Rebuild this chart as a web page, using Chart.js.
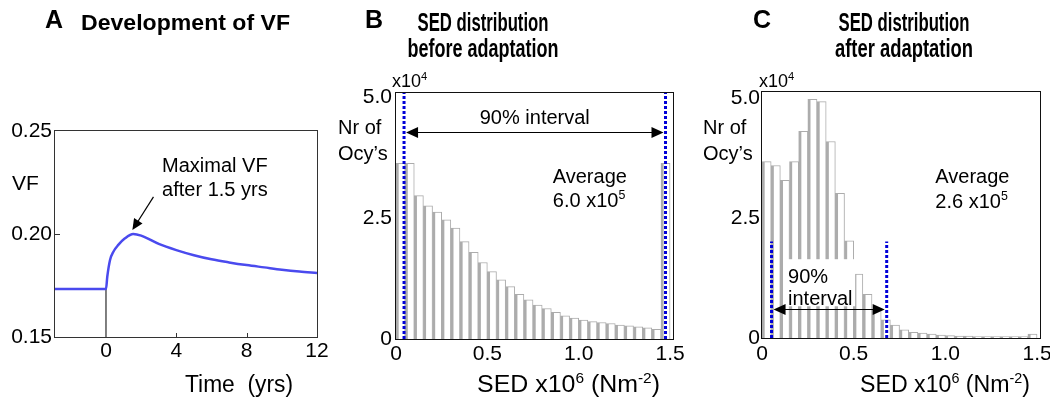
<!DOCTYPE html>
<html><head><meta charset="utf-8">
<script src="https://cdn.jsdelivr.net/npm/chart.js@4.4.1/dist/chart.umd.min.js"></script>
<style>
html,body{margin:0;padding:0;background:#fff;width:1050px;height:404px;overflow:hidden}
canvas{position:absolute;top:0}
#A{left:0}
#B{left:335px}
#C{left:695px}
</style></head><body>
<canvas id="A" width="335" height="404"></canvas>
<canvas id="B" width="360" height="404"></canvas>
<canvas id="C" width="355" height="404"></canvas>
<script>
const FONT = '"Liberation Sans", Arial, Helvetica, sans-serif';

// ---------- Panel A: development of VF ----------
const timeYrs  = [-2.9, 0, 0.075, 0.23, 0.42, 0.70, 1.08, 1.55, 2.0, 3.0, 4.0, 5.0, 6.0, 7.0, 8.0, 9.0, 10.0, 11.0, 12.0];
const vfValues = [0.1733, 0.1733, 0.1794, 0.1874, 0.1914, 0.1947, 0.1979, 0.2000, 0.1992, 0.1952, 0.1922, 0.1897, 0.1877, 0.1862, 0.1849, 0.1838, 0.1827, 0.1818, 0.1811];
const vfXTicks = [0, 4, 8, 12];
const vfXTickLabels = ['0', '4', '8', '12'];
const vfYTicks = [0.15, 0.20, 0.25];
const vfYTickLabels = ['0.15', '0.20', '0.25'];
const vfPeakNote = { tail: [2.7, 0.218], tip: [1.5, 0.2019], textX: 3.19, line1Y: 0.2301, line2Y: 0.2184 };

// ---------- Panels B and C: SED histograms (counts in x10^4) ----------
const sedBinCenters = [0.025, 0.075, 0.125, 0.175, 0.225, 0.275, 0.325, 0.375, 0.425, 0.475,
                       0.525, 0.575, 0.625, 0.675, 0.725, 0.775, 0.825, 0.875, 0.925, 0.975,
                       1.025, 1.075, 1.125, 1.175, 1.225, 1.275, 1.325, 1.375, 1.425, 1.475];
const countsBefore = [3.63, 3.63, 2.96, 2.75, 2.62, 2.46, 2.29, 2.01, 1.79, 1.58,
                      1.39, 1.22, 1.08, 0.92, 0.81, 0.70, 0.63, 0.55, 0.48, 0.43,
                      0.39, 0.36, 0.34, 0.32, 0.29, 0.27, 0.25, 0.23, 0.20, 3.63];
const countsAfter  = [3.67, 3.59, 3.28, 3.67, 4.30, 4.97, 4.92, 4.09, 3.01, 2.02,
                      1.33, 0.91, 0.60, 0.38, 0.27, 0.17, 0.12, 0.10, 0.08, 0.06,
                      0.05, 0.04, 0.04, 0.03, 0.03, 0.03, 0.03, 0.03, 0.03, 0.08];
const interval90Before = [0.044, 1.475];
const interval90After  = [0.052, 0.68];
const intervalLineTopAfter = 2.01;
const sedTicks = [0, 0.5, 1.0, 1.5];
const sedTickLabels = ['0', '0.5', '1.0', '1.5'];
const countTicks = [0, 2.5, 5.0];
const countTickLabels = ['0', '2.5', '5.0'];

// ---------- text helpers ----------
function txt(ctx, str, x, y, font, align, targetW) {
  ctx.save();
  ctx.font = font;
  ctx.fillStyle = '#000';
  ctx.textBaseline = 'alphabetic';
  ctx.textAlign = align || 'left';
  const w = ctx.measureText(str).width;
  const s = targetW ? targetW / w : 1;
  ctx.translate(x, y);
  ctx.scale(s, 1);
  ctx.fillText(str, 0, 0);
  ctx.restore();
}
function rich(ctx, parts, x, y, size, align, targetW) {
  ctx.save();
  ctx.fillStyle = '#000';
  ctx.textBaseline = 'alphabetic';
  ctx.textAlign = 'left';
  let total = 0;
  const segs = parts.map(([t, sup]) => {
    const fs = sup ? size * 0.62 : size;
    ctx.font = fs + 'px ' + FONT;
    const w = ctx.measureText(t).width;
    total += w;
    return { t, sup, fs, w };
  });
  const s = targetW ? targetW / total : 1;
  let sx = x;
  if (align === 'center') sx = x - total * s / 2;
  if (align === 'right') sx = x - total * s;
  ctx.translate(sx, y);
  ctx.scale(s, 1);
  let cx = 0;
  for (const g of segs) {
    ctx.font = g.fs + 'px ' + FONT;
    ctx.fillText(g.t, cx, g.sup ? -size * 0.40 : 0);
    cx += g.w;
  }
  ctx.restore();
}
function arrowHead(ctx, x1, y1, x2, y2, len, half) {
  const a = Math.atan2(y2 - y1, x2 - x1);
  ctx.beginPath();
  ctx.moveTo(x2, y2);
  ctx.lineTo(x2 - len * Math.cos(a) + half * Math.sin(a), y2 - len * Math.sin(a) - half * Math.cos(a));
  ctx.lineTo(x2 - len * Math.cos(a) - half * Math.sin(a), y2 - len * Math.sin(a) + half * Math.cos(a));
  ctx.closePath();
  ctx.fill();
}
function frame(chart, color) {
  const { ctx, chartArea: a } = chart;
  ctx.save();
  ctx.strokeStyle = color;
  ctx.lineWidth = 1;
  ctx.strokeRect(Math.round(a.left) - 0.5, Math.round(a.top) - 0.5, Math.round(a.right - a.left) + 1, Math.round(a.bottom - a.top) + 1);
  ctx.restore();
}

function axisX(min, max, ticks, labels, height, pad) {
  return {
    type: 'linear', min, max, offset: false,
    grid: { display: false, drawTicks: false, offset: false }, border: { display: false },
    afterBuildTicks: s => { s.ticks = ticks.map(v => ({ value: v })); },
    afterFit: s => { s.height = height; s.paddingLeft = 0; s.paddingRight = 0; },
    ticks: { callback: (v, i) => labels[i], font: { family: FONT, size: 21 }, color: '#000', padding: pad, maxRotation: 0, autoSkip: false }
  };
}
function axisY(min, max, ticks, labels, width, pad) {
  return {
    type: 'linear', min, max,
    grid: { display: false, drawTicks: false }, border: { display: false },
    afterBuildTicks: s => { s.ticks = ticks.map(v => ({ value: v })); },
    afterFit: s => { s.width = width; s.paddingTop = 0; s.paddingBottom = 0; },
    ticks: { callback: (v, i) => labels[i], font: { family: FONT, size: 21 }, color: '#000', padding: pad, autoSkip: false }
  };
}

// ---------- Panel A ----------
const panelAPlugin = {
  id: 'panelA',
  afterDraw(chart) {
    const { ctx, scales: { x, y }, chartArea: a } = chart;
    frame(chart, '#333');
    ctx.save();
    ctx.strokeStyle = '#333'; ctx.lineWidth = 1;
    ctx.beginPath();
    [4, 8].forEach(v => { const px = Math.round(x.getPixelForValue(v)) + 0.5; ctx.moveTo(px, a.bottom); ctx.lineTo(px, a.bottom - 4); });
    const py = Math.round(y.getPixelForValue(0.20)) + 0.5;
    ctx.moveTo(a.left, py); ctx.lineTo(a.left + 5, py);
    ctx.stroke();
    // annotation arrow
    const tx = x.getPixelForValue(vfPeakNote.tail[0]), ty = y.getPixelForValue(vfPeakNote.tail[1]);
    const hx = x.getPixelForValue(vfPeakNote.tip[0]), hy = y.getPixelForValue(vfPeakNote.tip[1]);
    ctx.strokeStyle = '#000'; ctx.fillStyle = '#000'; ctx.lineWidth = 1.2;
    ctx.beginPath(); ctx.moveTo(tx, ty); ctx.lineTo(hx + (tx - hx) * 0.2, hy + (ty - hy) * 0.2); ctx.stroke();
    arrowHead(ctx, tx, ty, hx, hy, 11, 5);
    ctx.restore();
    const f20 = '20px ' + FONT;
    txt(ctx, 'Maximal VF', x.getPixelForValue(vfPeakNote.textX), y.getPixelForValue(vfPeakNote.line1Y), f20);
    txt(ctx, 'after 1.5 yrs', x.getPixelForValue(vfPeakNote.textX), y.getPixelForValue(vfPeakNote.line2Y), f20);
    // titles and axis labels
    txt(ctx, 'A', 45, 28, 'bold 25px ' + FONT);
    txt(ctx, 'Development of VF', 81, 30, 'bold 22px ' + FONT, 'left', 209);
    txt(ctx, 'VF', 12, 190, '21px ' + FONT);
    txt(ctx, 'Time  (yrs)', 185, 392, '23px ' + FONT, 'left', 108);
  }
};

new Chart(document.getElementById('A'), {
  type: 'line',
  data: {
    datasets: [
      { data: timeYrs.map((t, i) => ({ x: t, y: vfValues[i] })), borderColor: '#4a4aee', borderWidth: 2.5, pointRadius: 0, cubicInterpolationMode: 'monotone', fill: false },
      { data: [{ x: timeYrs[1], y: vfYTicks[0] }, { x: timeYrs[1], y: vfValues[1] }], borderColor: '#000', borderWidth: 1, pointRadius: 0 }
    ]
  },
  options: {
    responsive: false, animation: false, events: [],
    layout: { padding: { left: 0, top: 131, right: 18, bottom: 0 } },
    plugins: { legend: { display: false }, tooltip: { enabled: false } },
    scales: {
      x: axisX(-2.9, 12, vfXTicks, vfXTickLabels, 67, 2),
      y: axisY(0.15, 0.25, vfYTicks, vfYTickLabels, 55, 3)
    }
  },
  plugins: [panelAPlugin]
});

// ---------- Panels B / C ----------
function histPlugin(cfg) {
  return {
    id: 'hist' + cfg.key,
    afterDatasetsDraw(chart) {
      const { ctx, scales: { x, y } } = chart;
      if (cfg.box) {
        ctx.save();
        ctx.fillStyle = '#fff';
        const l = x.getPixelForValue(cfg.box.x0), r = x.getPixelForValue(cfg.box.x1);
        const t = y.getPixelForValue(cfg.box.y1), b = y.getPixelForValue(cfg.box.y0);
        ctx.fillRect(l, t, r - l, b - t);
        ctx.restore();
      }
      // double-headed arrow
      ctx.save();
      ctx.strokeStyle = '#000'; ctx.fillStyle = '#000'; ctx.lineWidth = 1.2;
      const ay = Math.round(y.getPixelForValue(cfg.arrow.y)) + 0.5;
      const ax0 = x.getPixelForValue(cfg.arrow.x0) + 2, ax1 = x.getPixelForValue(cfg.arrow.x1) - 2;
      ctx.beginPath(); ctx.moveTo(ax0 + 8, ay); ctx.lineTo(ax1 - 8, ay); ctx.stroke();
      arrowHead(ctx, ax1, ay, ax0, ay, 12, 5.5);
      arrowHead(ctx, ax0, ay, ax1, ay, 12, 5.5);
      ctx.restore();
    },
    afterDraw(chart) {
      const { ctx, scales: { x, y } } = chart;
      frame(chart, '#111');
      const ox = cfg.ox;
      const f20 = '20px ' + FONT;
      txt(ctx, cfg.letter, cfg.letterX - ox, 28, 'bold 25px ' + FONT);
      txt(ctx, 'SED distribution', cfg.titleX - ox, 31, 'bold 25px ' + FONT, 'center', 131);
      txt(ctx, cfg.title2, cfg.titleX - ox, 57, 'bold 25px ' + FONT, 'center', cfg.title2W);
      rich(ctx, [['x10', false], ['4', true]], cfg.expX - ox, 87, 18);
      txt(ctx, 'Nr of', cfg.nrX - ox, 134, f20);
      txt(ctx, 'Ocy\u2019s', cfg.nrX - ox, 160, f20);
      txt(ctx, 'Average', x.getPixelForValue(cfg.avg.x), y.getPixelForValue(cfg.avg.y1), f20);
      rich(ctx, [[cfg.avg.text, false], ['5', true]], x.getPixelForValue(cfg.avg.x), y.getPixelForValue(cfg.avg.y2), 20);
      cfg.intervalText.forEach(it => txt(ctx, it.t, x.getPixelForValue(it.x), y.getPixelForValue(it.y), f20, it.align));
      rich(ctx, [['SED x10', false], ['6', true], [' (Nm', false], ['-2', true], [')', false]], cfg.labX - ox, 392, 23, 'left', cfg.labW);
    }
  };
}

function histChart(id, counts, interval, lineTop, yMax, xMax, yAxisW, padR, xPad, yPad, cfg) {
  const dotted = v => ({
    type: 'line', data: [{ x: v, y: 0 }, { x: v, y: lineTop }],
    borderColor: '#0000d8', borderWidth: 3, borderDash: [3, 2], pointRadius: 0, order: 0
  });
  return new Chart(document.getElementById(id), {
    data: {
      datasets: [
        { type: 'bar', data: sedBinCenters.map((c, i) => ({ x: c, y: counts[i] })),
          backgroundColor: '#ffffff', borderColor: '#acacac',
          borderWidth: { left: 3, top: 1, right: 1, bottom: 0 }, borderSkipped: false,
          categoryPercentage: 1, barPercentage: 1, order: 2 },
        dotted(interval[0]), dotted(interval[1])
      ]
    },
    options: {
      responsive: false, animation: false, events: [],
      layout: { padding: { left: 0, top: cfg.top, right: padR, bottom: 0 } },
      plugins: { legend: { display: false }, tooltip: { enabled: false } },
      scales: {
        x: axisX(0, xMax, sedTicks, sedTickLabels, 404 - cfg.bottom, xPad),
        y: axisY(0, yMax, countTicks, countTickLabels, yAxisW, yPad)
      }
    },
    plugins: [histPlugin(cfg)]
  });
}

histChart('B', countsBefore, interval90Before, 5.08, 5.08, 1.516, 61, 22, 3, 4, {
  key: 'B', ox: 335, top: 93, bottom: 339, letter: 'B', letterX: 365, titleX: 483, title2: 'before adaptation', title2W: 151,
  expX: 392, nrX: 338, avg: { x: 0.858, y1: 3.23, y2: 2.73, text: '6.0 x10' },
  arrow: { y: 4.28, x0: interval90Before[0], x1: interval90Before[1] },
  intervalText: [{ t: '90% interval', x: (interval90Before[0] + interval90Before[1]) / 2, y: 4.43, align: 'center' }],
  labX: 477, labW: 183
});
histChart('C', countsAfter, interval90After, intervalLineTopAfter, 5.12, 1.516, 67, 10, 4, 2, {
  key: 'C', ox: 695, top: 92, bottom: 338, letter: 'C', letterX: 753, titleX: 904, title2: 'after adaptation', title2W: 138,
  expX: 759, nrX: 703, avg: { x: 0.945, y1: 3.23, y2: 2.71, text: '2.6 x10' },
  arrow: { y: 0.60, x0: interval90After[0], x1: interval90After[1] },
  box: { x0: 0.137, x1: 0.508, y0: 0.66, y1: 1.64 },
  intervalText: [{ t: '90%', x: 0.142, y: 1.14, align: 'left' }, { t: 'interval', x: 0.142, y: 0.69, align: 'left' }],
  labX: 860, labW: 170
});
</script>
</body></html>
